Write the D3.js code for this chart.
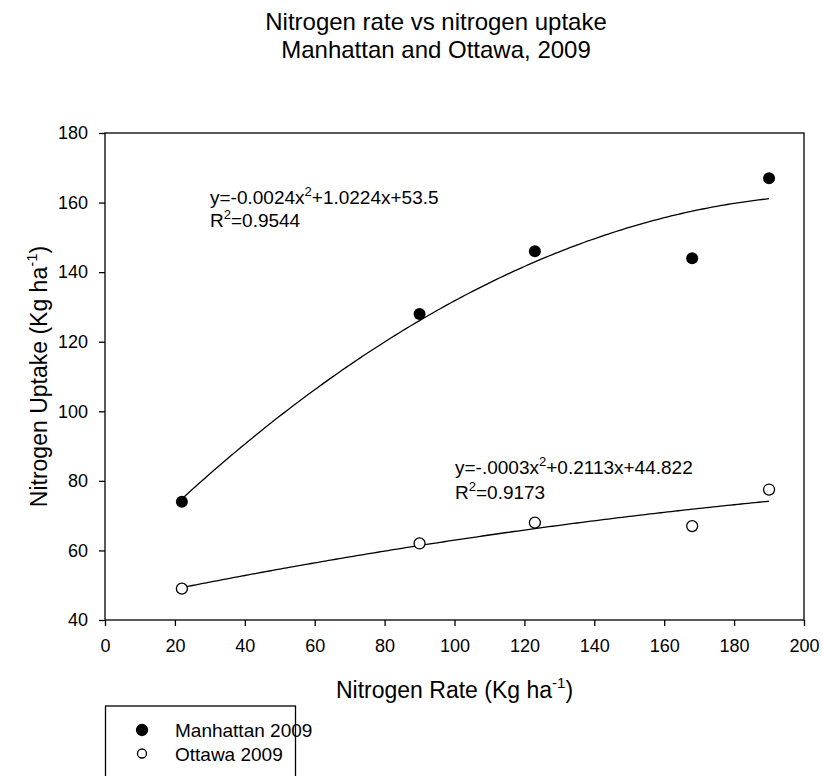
<!DOCTYPE html>
<html>
<head>
<meta charset="utf-8">
<script src="https://cdn.jsdelivr.net/npm/d3@7"></script>
<style>
  body { margin: 0; background: #fff; }
  svg { font-family: Arial, "Liberation Sans", sans-serif; }
</style>
</head>
<body>
<div id="chart"></div>
<script>
// measured points
const rates = [22, 90, 123, 168, 190];
const manhattan = [74, 128, 146, 144, 167];
const ottawa = [49, 62, 68, 67, 77.5];

// fitted quadratic coefficients [a, b, c] as printed on the chart
const manhattanFit = [-0.0024, 1.0224, 53.5];
const ottawaFit = [-0.0003, 0.2113, 44.822];

const xTicks = [0, 20, 40, 60, 80, 100, 120, 140, 160, 180, 200];
const yTicks = [40, 60, 80, 100, 120, 140, 160, 180];

const width = 823, height = 776,
    margin = ({ top: 133, right: 19, bottom: 156, left: 105 });

let svg = d3.select("#chart")
            .append("svg")
            .attr("width", width)
            .attr("height", height);

const x = d3.scaleLinear()
            .domain([0, 200])
            .range([margin.left, width - margin.right]);

const y = d3.scaleLinear()
            .domain([40, 180])
            .range([height - margin.bottom, margin.top]);

// title
svg.append("text")
    .attr("x", 436).attr("y", 30)
    .attr("text-anchor", "middle")
    .attr("font-size", 24)
    .text("Nitrogen rate vs nitrogen uptake");
svg.append("text")
    .attr("x", 436).attr("y", 58)
    .attr("text-anchor", "middle")
    .attr("font-size", 24)
    .text("Manhattan and Ottawa, 2009");

// frame
svg.append("rect")
    .attr("x", x(0)).attr("y", y(180))
    .attr("width", x(200) - x(0))
    .attr("height", y(40) - y(180))
    .attr("fill", "none")
    .attr("stroke", "#000")
    .attr("stroke-width", 1.3);

const xAxis = (g) => g
    .attr("transform", `translate(0, ${y(40)})`)
    .call(d3.axisBottom(x).tickValues(xTicks).tickSize(6).tickPadding(13))
    .attr("font-size", 18)
    .attr("font-family", null);

const yAxis = (g) => g
    .attr("transform", `translate(${x(0)}, 0)`)
    .call(d3.axisLeft(y).tickValues(yTicks).tickSize(6).tickPadding(11))
    .attr("font-size", 18)
    .attr("font-family", null);

svg.append("g").call(xAxis);
svg.append("g").call(yAxis);
svg.selectAll(".domain").remove();
svg.selectAll(".tick line").attr("stroke-width", 1.3);
svg.selectAll(".tick text").attr("fill", "#000");

// axis titles
let xl = svg.append("text")
    .attr("x", x(100)).attr("y", 698)
    .attr("text-anchor", "middle")
    .attr("font-size", 23);
xl.append("tspan").text("Nitrogen Rate (Kg ha");
xl.append("tspan").attr("dy", -10).attr("font-size", 15).text("-1");
xl.append("tspan").attr("dy", 10).text(")");

let yl = svg.append("text")
    .attr("transform", `translate(47, ${(y(40) + y(180)) / 2}) rotate(-90)`)
    .attr("text-anchor", "middle")
    .attr("font-size", 23);
yl.append("tspan").text("Nitrogen Uptake (Kg ha");
yl.append("tspan").attr("dy", -10).attr("font-size", 15).text("-1");
yl.append("tspan").attr("dy", 10).text(")");

// regression curves
const quad = (c) => (v) => c[0] * v * v + c[1] * v + c[2];
const line = d3.line().x(d => x(d[0])).y(d => y(d[1]));
const xs = d3.range(rates[0], rates[rates.length - 1] + 0.01, 1);

[manhattanFit, ottawaFit].forEach(c => {
    const f = quad(c);
    svg.append("path")
        .datum(xs.map(v => [v, f(v)]))
        .attr("d", line)
        .attr("fill", "none")
        .attr("stroke", "#000")
        .attr("stroke-width", 1.3);
});

// points
svg.selectAll(".man")
    .data(rates.map((r, i) => [r, manhattan[i]]))
    .join("circle")
    .attr("class", "man")
    .attr("cx", d => x(d[0]))
    .attr("cy", d => y(d[1]))
    .attr("r", 6)
    .attr("fill", "#000");

svg.selectAll(".ott")
    .data(rates.map((r, i) => [r, ottawa[i]]))
    .join("circle")
    .attr("class", "ott")
    .attr("cx", d => x(d[0]))
    .attr("cy", d => y(d[1]))
    .attr("r", 5.5)
    .attr("fill", "#fff")
    .attr("stroke", "#000")
    .attr("stroke-width", 1.3);

// equation labels
function eqLabel(px, py, gap, parts, r2) {
    let t = svg.append("text").attr("x", px).attr("y", py).attr("font-size", 19);
    t.append("tspan").text(parts[0]);
    t.append("tspan").attr("dy", -8).attr("font-size", 13).text("2");
    t.append("tspan").attr("dy", 8).text(parts[1]);
    let t2 = svg.append("text").attr("x", px).attr("y", py + gap).attr("font-size", 19);
    t2.append("tspan").text("R");
    t2.append("tspan").attr("dy", -8).attr("font-size", 13).text("2");
    t2.append("tspan").attr("dy", 8).text("=" + r2);
}
eqLabel(210, 204, 23, ["y=-0.0024x", "+1.0224x+53.5"], "0.9544");
eqLabel(455, 474, 25, ["y=-.0003x", "+0.2113x+44.822"], "0.9173");

// legend
let legend = svg.append("g");
legend.append("rect")
    .attr("x", 105.5).attr("y", 706)
    .attr("width", 190).attr("height", 90)
    .attr("fill", "none")
    .attr("stroke", "#000")
    .attr("stroke-width", 1.3);

const legendItems = ["Manhattan 2009", "Ottawa 2009"];
legendItems.forEach((name, i) => {
    legend.append("circle")
        .attr("cx", 142).attr("cy", 730 + i * 23.5)
        .attr("r", i === 0 ? 5.5 : 4.5)
        .attr("fill", i === 0 ? "#000" : "#fff")
        .attr("stroke", "#000")
        .attr("stroke-width", 1.3);
    legend.append("text")
        .attr("x", 175).attr("y", 737 + i * 23.5)
        .attr("font-size", 19)
        .text(name);
});
</script>
</body>
</html>
